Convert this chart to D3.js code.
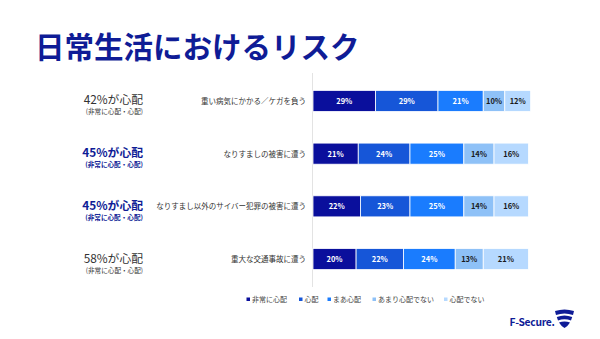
<!DOCTYPE html>
<html><head><meta charset="utf-8">
<script src="https://cdn.jsdelivr.net/npm/d3@7"></script>
<style>body{margin:0;background:#fff}svg{display:block}text{font-family:"Noto Sans CJK JP","Noto Sans",sans-serif}</style>
</head><body>
<script>
const categories = ["重い病気にかかる／ケガを負う","なりすましの被害に遭う","なりすまし以外のサイバー犯罪の被害に遭う","重大な交通事故に遭う"];
const seriesNames = ["非常に心配","心配","まあ心配","あまり心配でない","心配でない"];
const values = [[29,29,21,10,12],[21,24,25,14,16],[22,23,25,14,16],[20,22,24,13,21]];
const worryLabels = ["42%が心配","45%が心配","45%が心配","58%が心配"];
const worryHighlight = [false,true,true,false];
const subLabel = "(非常に心配・心配)";
const colors = ["#0a0f9c","#1656d8","#1a7cfe","#8ec1f7","#b6d9ff"];
const textColors = ["#fff","#fff","#fff","#1a1a1a","#1a1a1a"];

const W=600,H=339;
const svg=d3.select("body").append("svg").attr("width",W).attr("height",H);
svg.append("text").attr("x",35).attr("y",58).attr("font-size",29.5).attr("font-weight",700)
  .attr("fill","#0f1c96").text("日常生活におけるリスク");

const x=d3.scaleLinear().domain([0,100]).range([313,528.5]);
const y=d3.scaleBand().domain(categories).range([73,287]).paddingInner(0.6).paddingOuter(0.33);

svg.append("line").attr("x1",312.5).attr("x2",312.5).attr("y1",73).attr("y2",287).attr("stroke","#e3e3e3").attr("stroke-width",1);

categories.forEach((c,i)=>{
  let cum=0;
  const g=svg.append("g");
  values[i].forEach((v,j)=>{
    const x0=x(cum), x1=x(cum+v);
    g.append("rect").attr("x",x0).attr("y",y(c)).attr("width",x1-x0).attr("height",y.bandwidth())
      .attr("fill",colors[j]).attr("stroke","#fff").attr("stroke-width",0.8);
    g.append("text").attr("x",(x0+x1)/2).attr("y",y(c)+y.bandwidth()/2+3).attr("text-anchor","middle")
      .attr("font-size",7.5).attr("font-weight",700).attr("fill",textColors[j]).text(v+"%");
    cum+=v;
  });
  const cy=y(c)+y.bandwidth()/2;
  svg.append("text").attr("x",306).attr("y",cy+3).attr("text-anchor","end").attr("font-size",7.5)
    .attr("fill","#333").text(c);
  svg.append("text").attr("x",143).attr("y",cy+3.5).attr("text-anchor","end").attr("font-size",11.8)
    .attr("font-weight",worryHighlight[i]?700:400).attr("fill",worryHighlight[i]?"#0f1c96":"#333").text(worryLabels[i]);
  svg.append("text").attr("x",143).attr("y",cy+13.5).attr("text-anchor","end").attr("font-size",6.6)
    .attr("font-weight",worryHighlight[i]?700:400).attr("fill",worryHighlight[i]?"#0f1c96":"#333").text(subLabel);
});

const legX=[246.5,299,327.5,372.5,444];
seriesNames.forEach((s,j)=>{
  svg.append("rect").attr("x",legX[j]).attr("y",297.5).attr("width",3.5).attr("height",3.5).attr("fill",colors[j]);
  svg.append("text").attr("x",legX[j]+5.5).attr("y",302).attr("font-size",7).attr("fill","#444").text(s);
});

// logo
svg.append("text").attr("x",509.5).attr("y",326).attr("font-size",10.3).attr("font-weight",700)
  .attr("font-family","Roboto, sans-serif").attr("fill","#0f1c96").attr("letter-spacing",-0.3).text("F-Secure.");
const lg=svg.append("g").attr("transform","translate(555,310)").attr("fill","#0f1c96");
lg.append("path").attr("d","M0,1 Q9.5,-2 19,1 L18,5 Q9.5,2 1,5 Z");
lg.append("path").attr("d","M1.8,7 Q9.5,4 17.2,7 L16,10.5 Q9.5,8 3,10.5 Z");
lg.append("path").attr("d","M4,12.5 Q9.5,10.5 15,12.5 Q13,16 9.5,18 Q6,16 4,12.5 Z");
</script>
</body></html>
